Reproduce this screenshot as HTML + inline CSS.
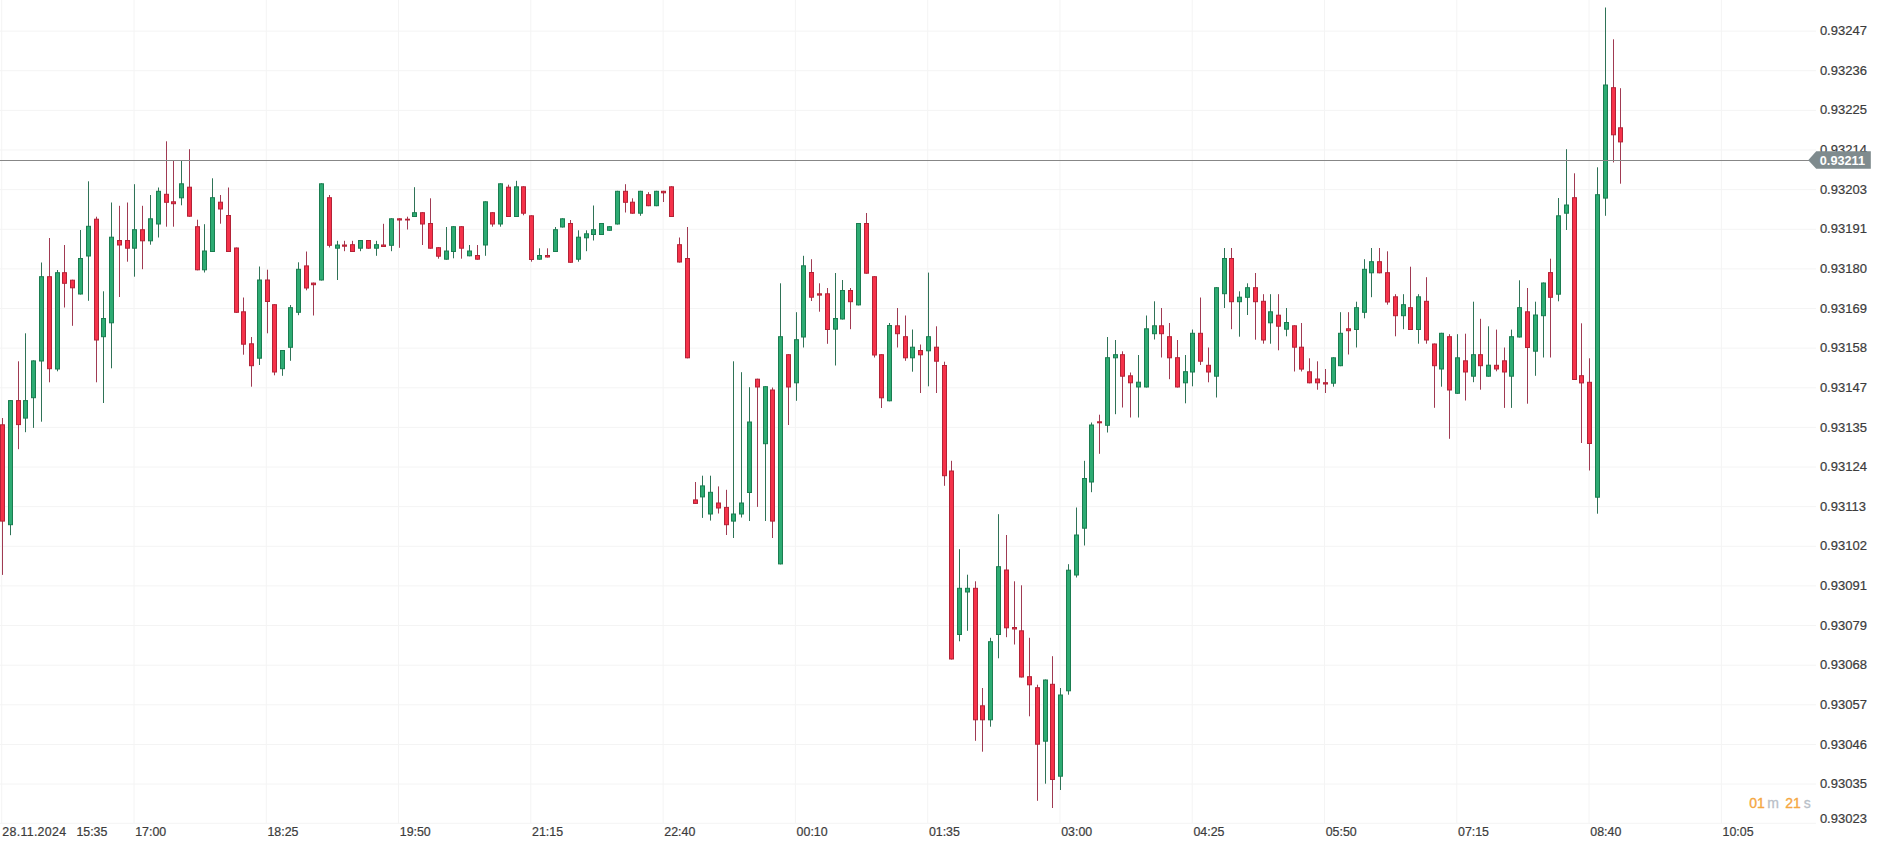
<!DOCTYPE html><html><head><meta charset="utf-8"><title>Chart</title>
<style>html,body{margin:0;padding:0;background:#fff;overflow:hidden}svg{display:block}text{font-family:"Liberation Sans",Arial,sans-serif}</style></head><body>
<svg width="1877" height="846" viewBox="0 0 1877 846">
<rect width="1877" height="846" fill="#fff"/>
<g stroke="#f4f4f4" stroke-width="1">
<line x1="0" y1="31.10" x2="1816" y2="31.10"/>
<line x1="0" y1="70.73" x2="1816" y2="70.73"/>
<line x1="0" y1="110.36" x2="1816" y2="110.36"/>
<line x1="0" y1="149.99" x2="1816" y2="149.99"/>
<line x1="0" y1="189.62" x2="1816" y2="189.62"/>
<line x1="0" y1="229.25" x2="1816" y2="229.25"/>
<line x1="0" y1="268.88" x2="1816" y2="268.88"/>
<line x1="0" y1="308.51" x2="1816" y2="308.51"/>
<line x1="0" y1="348.14" x2="1816" y2="348.14"/>
<line x1="0" y1="387.77" x2="1816" y2="387.77"/>
<line x1="0" y1="427.40" x2="1816" y2="427.40"/>
<line x1="0" y1="467.03" x2="1816" y2="467.03"/>
<line x1="0" y1="506.66" x2="1816" y2="506.66"/>
<line x1="0" y1="546.29" x2="1816" y2="546.29"/>
<line x1="0" y1="585.92" x2="1816" y2="585.92"/>
<line x1="0" y1="625.55" x2="1816" y2="625.55"/>
<line x1="0" y1="665.18" x2="1816" y2="665.18"/>
<line x1="0" y1="704.81" x2="1816" y2="704.81"/>
<line x1="0" y1="744.44" x2="1816" y2="744.44"/>
<line x1="0" y1="784.07" x2="1816" y2="784.07"/>
<line x1="0" y1="823.30" x2="1816" y2="823.30"/>
<line x1="1.72" y1="0" x2="1.72" y2="823.3"/>
<line x1="134.00" y1="0" x2="134.00" y2="823.3"/>
<line x1="266.28" y1="0" x2="266.28" y2="823.3"/>
<line x1="398.56" y1="0" x2="398.56" y2="823.3"/>
<line x1="530.84" y1="0" x2="530.84" y2="823.3"/>
<line x1="663.12" y1="0" x2="663.12" y2="823.3"/>
<line x1="795.40" y1="0" x2="795.40" y2="823.3"/>
<line x1="927.68" y1="0" x2="927.68" y2="823.3"/>
<line x1="1059.96" y1="0" x2="1059.96" y2="823.3"/>
<line x1="1192.24" y1="0" x2="1192.24" y2="823.3"/>
<line x1="1324.52" y1="0" x2="1324.52" y2="823.3"/>
<line x1="1456.80" y1="0" x2="1456.80" y2="823.3"/>
<line x1="1589.08" y1="0" x2="1589.08" y2="823.3"/>
<line x1="1721.36" y1="0" x2="1721.36" y2="823.3"/>
</g>
<g fill="#3c3c3c" stroke="#3c3c3c" stroke-width="0.22" font-size="13">
<text x="1819.9" y="35.20">0.93247</text>
<text x="1819.9" y="74.83">0.93236</text>
<text x="1819.9" y="114.46">0.93225</text>
<text x="1819.9" y="154.09">0.93214</text>
<text x="1819.9" y="193.72">0.93203</text>
<text x="1819.9" y="233.35">0.93191</text>
<text x="1819.9" y="272.98">0.93180</text>
<text x="1819.9" y="312.61">0.93169</text>
<text x="1819.9" y="352.24">0.93158</text>
<text x="1819.9" y="391.87">0.93147</text>
<text x="1819.9" y="431.50">0.93135</text>
<text x="1819.9" y="471.13">0.93124</text>
<text x="1819.9" y="510.76">0.93113</text>
<text x="1819.9" y="550.39">0.93102</text>
<text x="1819.9" y="590.02">0.93091</text>
<text x="1819.9" y="629.65">0.93079</text>
<text x="1819.9" y="669.28">0.93068</text>
<text x="1819.9" y="708.91">0.93057</text>
<text x="1819.9" y="748.54">0.93046</text>
<text x="1819.9" y="788.17">0.93035</text>
<text x="1819.9" y="823.40">0.93023</text>
</g>
<g fill="#3c3c3c" stroke="#3c3c3c" stroke-width="0.22" font-size="12.4">
<text x="2.3" y="835.8" textLength="63.8" lengthAdjust="spacing">28.11.2024</text><text x="76.4" y="835.8">15:35</text>
<text x="135.20" y="835.8">17:00</text>
<text x="267.48" y="835.8">18:25</text>
<text x="399.76" y="835.8">19:50</text>
<text x="532.04" y="835.8">21:15</text>
<text x="664.32" y="835.8">22:40</text>
<text x="796.60" y="835.8">00:10</text>
<text x="928.88" y="835.8">01:35</text>
<text x="1061.16" y="835.8">03:00</text>
<text x="1193.44" y="835.8">04:25</text>
<text x="1325.72" y="835.8">05:50</text>
<text x="1458.00" y="835.8">07:15</text>
<text x="1590.28" y="835.8">08:40</text>
<text x="1722.56" y="835.8">10:05</text>
</g>
<line x1="2.50" y1="418.0" x2="2.50" y2="574.9" stroke="#a03a52" stroke-width="1"/>
<rect x="0.50" y="424.8" width="4" height="96.3" fill="#f5324a" stroke="#b32236" stroke-width="1"/>
<line x1="10.50" y1="400.1" x2="10.50" y2="535.2" stroke="#2f7357" stroke-width="1"/>
<rect x="8.50" y="400.6" width="4" height="124.1" fill="#2dab73" stroke="#1a7d50" stroke-width="1"/>
<line x1="18.50" y1="361.3" x2="18.50" y2="449.2" stroke="#a03a52" stroke-width="1"/>
<rect x="16.50" y="400.6" width="4" height="24.0" fill="#f5324a" stroke="#b32236" stroke-width="1"/>
<line x1="25.50" y1="333.3" x2="25.50" y2="432.2" stroke="#2f7357" stroke-width="1"/>
<rect x="23.50" y="400.6" width="4" height="17.5" fill="#2dab73" stroke="#1a7d50" stroke-width="1"/>
<line x1="33.50" y1="360.4" x2="33.50" y2="427.9" stroke="#2f7357" stroke-width="1"/>
<rect x="31.50" y="360.9" width="4" height="36.8" fill="#2dab73" stroke="#1a7d50" stroke-width="1"/>
<line x1="41.50" y1="262.5" x2="41.50" y2="421.7" stroke="#2f7357" stroke-width="1"/>
<rect x="39.50" y="276.7" width="4" height="84.3" fill="#2dab73" stroke="#1a7d50" stroke-width="1"/>
<line x1="49.50" y1="238.0" x2="49.50" y2="382.3" stroke="#a03a52" stroke-width="1"/>
<rect x="47.50" y="276.7" width="4" height="92.0" fill="#f5324a" stroke="#b32236" stroke-width="1"/>
<line x1="57.50" y1="270.0" x2="57.50" y2="371.3" stroke="#2f7357" stroke-width="1"/>
<rect x="55.50" y="272.7" width="4" height="96.3" fill="#2dab73" stroke="#1a7d50" stroke-width="1"/>
<line x1="64.50" y1="245.0" x2="64.50" y2="307.5" stroke="#a03a52" stroke-width="1"/>
<rect x="62.50" y="272.7" width="4" height="10.6" fill="#f5324a" stroke="#b32236" stroke-width="1"/>
<line x1="72.50" y1="279.7" x2="72.50" y2="325.8" stroke="#a03a52" stroke-width="1"/>
<rect x="70.50" y="280.2" width="4" height="7.6" fill="#f5324a" stroke="#b32236" stroke-width="1"/>
<line x1="80.50" y1="230.0" x2="80.50" y2="294.5" stroke="#2f7357" stroke-width="1"/>
<rect x="78.50" y="258.5" width="4" height="35.5" fill="#2dab73" stroke="#1a7d50" stroke-width="1"/>
<line x1="88.50" y1="181.3" x2="88.50" y2="300.8" stroke="#2f7357" stroke-width="1"/>
<rect x="86.50" y="226.3" width="4" height="29.7" fill="#2dab73" stroke="#1a7d50" stroke-width="1"/>
<line x1="96.50" y1="216.7" x2="96.50" y2="382.3" stroke="#a03a52" stroke-width="1"/>
<rect x="94.50" y="219.2" width="4" height="120.8" fill="#f5324a" stroke="#b32236" stroke-width="1"/>
<line x1="103.50" y1="291.3" x2="103.50" y2="403.0" stroke="#2f7357" stroke-width="1"/>
<rect x="101.50" y="318.5" width="4" height="18.2" fill="#2dab73" stroke="#1a7d50" stroke-width="1"/>
<line x1="111.50" y1="202.5" x2="111.50" y2="368.3" stroke="#2f7357" stroke-width="1"/>
<rect x="109.50" y="237.2" width="4" height="85.6" fill="#2dab73" stroke="#1a7d50" stroke-width="1"/>
<line x1="119.50" y1="205.8" x2="119.50" y2="297.0" stroke="#a03a52" stroke-width="1"/>
<rect x="117.50" y="240.5" width="4" height="4.5" fill="#f5324a" stroke="#b32236" stroke-width="1"/>
<line x1="127.50" y1="202.5" x2="127.50" y2="261.7" stroke="#a03a52" stroke-width="1"/>
<rect x="125.50" y="240.5" width="4" height="7.7" fill="#f5324a" stroke="#b32236" stroke-width="1"/>
<line x1="134.50" y1="184.2" x2="134.50" y2="276.7" stroke="#2f7357" stroke-width="1"/>
<rect x="132.50" y="229.7" width="4" height="18.5" fill="#2dab73" stroke="#1a7d50" stroke-width="1"/>
<line x1="142.50" y1="205.8" x2="142.50" y2="269.2" stroke="#a03a52" stroke-width="1"/>
<rect x="140.50" y="229.7" width="4" height="11.1" fill="#f5324a" stroke="#b32236" stroke-width="1"/>
<line x1="150.50" y1="195.0" x2="150.50" y2="244.7" stroke="#2f7357" stroke-width="1"/>
<rect x="148.50" y="218.8" width="4" height="22.0" fill="#2dab73" stroke="#1a7d50" stroke-width="1"/>
<line x1="158.50" y1="187.5" x2="158.50" y2="237.5" stroke="#2f7357" stroke-width="1"/>
<rect x="156.50" y="191.3" width="4" height="32.7" fill="#2dab73" stroke="#1a7d50" stroke-width="1"/>
<line x1="166.50" y1="141.3" x2="166.50" y2="226.7" stroke="#a03a52" stroke-width="1"/>
<rect x="164.50" y="194.3" width="4" height="8.0" fill="#f5324a" stroke="#b32236" stroke-width="1"/>
<line x1="173.50" y1="160.5" x2="173.50" y2="226.7" stroke="#a03a52" stroke-width="1"/>
<rect x="171.50" y="201.8" width="4" height="1.9" fill="#f5324a" stroke="#b32236" stroke-width="1"/>
<line x1="181.50" y1="160.5" x2="181.50" y2="205.3" stroke="#2f7357" stroke-width="1"/>
<rect x="179.50" y="183.8" width="4" height="14.0" fill="#2dab73" stroke="#1a7d50" stroke-width="1"/>
<line x1="189.50" y1="149.2" x2="189.50" y2="216.7" stroke="#a03a52" stroke-width="1"/>
<rect x="187.50" y="187.2" width="4" height="29.0" fill="#f5324a" stroke="#b32236" stroke-width="1"/>
<line x1="197.50" y1="219.7" x2="197.50" y2="270.3" stroke="#a03a52" stroke-width="1"/>
<rect x="195.50" y="226.7" width="4" height="43.1" fill="#f5324a" stroke="#b32236" stroke-width="1"/>
<line x1="204.50" y1="224.2" x2="204.50" y2="272.5" stroke="#2f7357" stroke-width="1"/>
<rect x="202.50" y="251.0" width="4" height="18.8" fill="#2dab73" stroke="#1a7d50" stroke-width="1"/>
<line x1="212.50" y1="178.3" x2="212.50" y2="252.0" stroke="#2f7357" stroke-width="1"/>
<rect x="210.50" y="197.7" width="4" height="53.8" fill="#2dab73" stroke="#1a7d50" stroke-width="1"/>
<line x1="220.50" y1="195.0" x2="220.50" y2="223.7" stroke="#a03a52" stroke-width="1"/>
<rect x="218.50" y="202.2" width="4" height="6.8" fill="#f5324a" stroke="#b32236" stroke-width="1"/>
<line x1="228.50" y1="187.5" x2="228.50" y2="252.0" stroke="#a03a52" stroke-width="1"/>
<rect x="226.50" y="215.5" width="4" height="36.0" fill="#f5324a" stroke="#b32236" stroke-width="1"/>
<line x1="236.50" y1="247.5" x2="236.50" y2="312.8" stroke="#a03a52" stroke-width="1"/>
<rect x="234.50" y="248.0" width="4" height="64.3" fill="#f5324a" stroke="#b32236" stroke-width="1"/>
<line x1="243.50" y1="297.5" x2="243.50" y2="354.7" stroke="#a03a52" stroke-width="1"/>
<rect x="241.50" y="311.8" width="4" height="32.4" fill="#f5324a" stroke="#b32236" stroke-width="1"/>
<line x1="251.50" y1="337.0" x2="251.50" y2="386.7" stroke="#a03a52" stroke-width="1"/>
<rect x="249.50" y="343.8" width="4" height="21.9" fill="#f5324a" stroke="#b32236" stroke-width="1"/>
<line x1="259.50" y1="266.5" x2="259.50" y2="365.0" stroke="#2f7357" stroke-width="1"/>
<rect x="257.50" y="280.0" width="4" height="78.2" fill="#2dab73" stroke="#1a7d50" stroke-width="1"/>
<line x1="267.50" y1="269.7" x2="267.50" y2="333.3" stroke="#a03a52" stroke-width="1"/>
<rect x="265.50" y="280.0" width="4" height="21.5" fill="#f5324a" stroke="#b32236" stroke-width="1"/>
<line x1="274.50" y1="304.2" x2="274.50" y2="375.3" stroke="#a03a52" stroke-width="1"/>
<rect x="272.50" y="304.7" width="4" height="67.3" fill="#f5324a" stroke="#b32236" stroke-width="1"/>
<line x1="282.50" y1="350.0" x2="282.50" y2="375.8" stroke="#2f7357" stroke-width="1"/>
<rect x="280.50" y="350.5" width="4" height="18.2" fill="#2dab73" stroke="#1a7d50" stroke-width="1"/>
<line x1="290.50" y1="305.0" x2="290.50" y2="360.8" stroke="#2f7357" stroke-width="1"/>
<rect x="288.50" y="307.7" width="4" height="39.6" fill="#2dab73" stroke="#1a7d50" stroke-width="1"/>
<line x1="298.50" y1="262.3" x2="298.50" y2="315.2" stroke="#2f7357" stroke-width="1"/>
<rect x="296.50" y="269.3" width="4" height="43.0" fill="#2dab73" stroke="#1a7d50" stroke-width="1"/>
<line x1="306.50" y1="251.5" x2="306.50" y2="290.3" stroke="#a03a52" stroke-width="1"/>
<rect x="304.50" y="265.9" width="4" height="22.1" fill="#f5324a" stroke="#b32236" stroke-width="1"/>
<line x1="313.50" y1="282.6" x2="313.50" y2="315.5" stroke="#a03a52" stroke-width="1"/>
<rect x="311.50" y="283.1" width="4" height="1.6" fill="#f5324a" stroke="#b32236" stroke-width="1"/>
<line x1="321.50" y1="183.3" x2="321.50" y2="280.5" stroke="#2f7357" stroke-width="1"/>
<rect x="319.50" y="183.8" width="4" height="96.2" fill="#2dab73" stroke="#1a7d50" stroke-width="1"/>
<line x1="329.50" y1="195.0" x2="329.50" y2="247.5" stroke="#a03a52" stroke-width="1"/>
<rect x="327.50" y="197.7" width="4" height="47.6" fill="#f5324a" stroke="#b32236" stroke-width="1"/>
<line x1="337.50" y1="240.8" x2="337.50" y2="280.0" stroke="#2f7357" stroke-width="1"/>
<rect x="335.50" y="245.0" width="4" height="3.2" fill="#2dab73" stroke="#1a7d50" stroke-width="1"/>
<line x1="344.50" y1="240.8" x2="344.50" y2="251.2" stroke="#a03a52" stroke-width="1"/>
<rect x="342.50" y="245.0" width="4" height="1.2" fill="#f5324a" stroke="#b32236" stroke-width="1"/>
<line x1="352.50" y1="240.8" x2="352.50" y2="252.0" stroke="#a03a52" stroke-width="1"/>
<rect x="350.50" y="244.7" width="4" height="6.8" fill="#f5324a" stroke="#b32236" stroke-width="1"/>
<line x1="360.50" y1="240.0" x2="360.50" y2="251.2" stroke="#2f7357" stroke-width="1"/>
<rect x="358.50" y="240.5" width="4" height="7.7" fill="#2dab73" stroke="#1a7d50" stroke-width="1"/>
<line x1="368.50" y1="240.0" x2="368.50" y2="248.7" stroke="#a03a52" stroke-width="1"/>
<rect x="366.50" y="240.5" width="4" height="7.7" fill="#f5324a" stroke="#b32236" stroke-width="1"/>
<line x1="376.50" y1="240.8" x2="376.50" y2="255.8" stroke="#2f7357" stroke-width="1"/>
<rect x="374.50" y="244.7" width="4" height="3.5" fill="#2dab73" stroke="#1a7d50" stroke-width="1"/>
<line x1="383.50" y1="223.8" x2="383.50" y2="247.0" stroke="#a03a52" stroke-width="1"/>
<rect x="381.50" y="245.0" width="4" height="1.5" fill="#f5324a" stroke="#b32236" stroke-width="1"/>
<line x1="391.50" y1="218.3" x2="391.50" y2="251.2" stroke="#2f7357" stroke-width="1"/>
<rect x="389.50" y="218.8" width="4" height="26.5" fill="#2dab73" stroke="#1a7d50" stroke-width="1"/>
<line x1="399.50" y1="218.3" x2="399.50" y2="247.8" stroke="#a03a52" stroke-width="1"/>
<rect x="397.50" y="218.8" width="4" height="1.2" fill="#f5324a" stroke="#b32236" stroke-width="1"/>
<line x1="407.50" y1="216.7" x2="407.50" y2="229.5" stroke="#a03a52" stroke-width="1"/>
<rect x="405.50" y="219.2" width="4" height="0.8" fill="#f5324a" stroke="#b32236" stroke-width="1"/>
<line x1="414.50" y1="187.2" x2="414.50" y2="217.0" stroke="#2f7357" stroke-width="1"/>
<rect x="412.50" y="212.7" width="4" height="3.8" fill="#2dab73" stroke="#1a7d50" stroke-width="1"/>
<line x1="422.50" y1="212.2" x2="422.50" y2="245.0" stroke="#a03a52" stroke-width="1"/>
<rect x="420.50" y="212.7" width="4" height="11.3" fill="#f5324a" stroke="#b32236" stroke-width="1"/>
<line x1="430.50" y1="198.3" x2="430.50" y2="248.7" stroke="#a03a52" stroke-width="1"/>
<rect x="428.50" y="223.5" width="4" height="24.7" fill="#f5324a" stroke="#b32236" stroke-width="1"/>
<line x1="438.50" y1="247.2" x2="438.50" y2="258.7" stroke="#a03a52" stroke-width="1"/>
<rect x="436.50" y="247.7" width="4" height="8.5" fill="#f5324a" stroke="#b32236" stroke-width="1"/>
<line x1="446.50" y1="227.0" x2="446.50" y2="259.7" stroke="#2f7357" stroke-width="1"/>
<rect x="444.50" y="251.0" width="4" height="8.2" fill="#2dab73" stroke="#1a7d50" stroke-width="1"/>
<line x1="453.50" y1="226.2" x2="453.50" y2="258.3" stroke="#2f7357" stroke-width="1"/>
<rect x="451.50" y="226.7" width="4" height="24.8" fill="#2dab73" stroke="#1a7d50" stroke-width="1"/>
<line x1="461.50" y1="226.2" x2="461.50" y2="258.7" stroke="#a03a52" stroke-width="1"/>
<rect x="459.50" y="226.7" width="4" height="21.5" fill="#f5324a" stroke="#b32236" stroke-width="1"/>
<line x1="469.50" y1="245.0" x2="469.50" y2="256.3" stroke="#2f7357" stroke-width="1"/>
<rect x="467.50" y="251.0" width="4" height="4.8" fill="#2dab73" stroke="#1a7d50" stroke-width="1"/>
<line x1="477.50" y1="245.0" x2="477.50" y2="259.7" stroke="#a03a52" stroke-width="1"/>
<rect x="475.50" y="255.5" width="4" height="3.7" fill="#f5324a" stroke="#b32236" stroke-width="1"/>
<line x1="485.50" y1="201.3" x2="485.50" y2="255.8" stroke="#2f7357" stroke-width="1"/>
<rect x="483.50" y="201.8" width="4" height="43.2" fill="#2dab73" stroke="#1a7d50" stroke-width="1"/>
<line x1="492.50" y1="212.2" x2="492.50" y2="226.7" stroke="#a03a52" stroke-width="1"/>
<rect x="490.50" y="212.7" width="4" height="11.3" fill="#f5324a" stroke="#b32236" stroke-width="1"/>
<line x1="500.50" y1="183.3" x2="500.50" y2="226.7" stroke="#2f7357" stroke-width="1"/>
<rect x="498.50" y="183.8" width="4" height="40.2" fill="#2dab73" stroke="#1a7d50" stroke-width="1"/>
<line x1="508.50" y1="184.7" x2="508.50" y2="217.0" stroke="#a03a52" stroke-width="1"/>
<rect x="506.50" y="187.2" width="4" height="29.3" fill="#f5324a" stroke="#b32236" stroke-width="1"/>
<line x1="516.50" y1="180.8" x2="516.50" y2="217.0" stroke="#2f7357" stroke-width="1"/>
<rect x="514.50" y="186.8" width="4" height="29.7" fill="#2dab73" stroke="#1a7d50" stroke-width="1"/>
<line x1="523.50" y1="186.3" x2="523.50" y2="215.3" stroke="#a03a52" stroke-width="1"/>
<rect x="521.50" y="186.8" width="4" height="26.4" fill="#f5324a" stroke="#b32236" stroke-width="1"/>
<line x1="531.50" y1="215.3" x2="531.50" y2="261.7" stroke="#a03a52" stroke-width="1"/>
<rect x="529.50" y="215.8" width="4" height="43.7" fill="#f5324a" stroke="#b32236" stroke-width="1"/>
<line x1="539.50" y1="248.3" x2="539.50" y2="259.7" stroke="#2f7357" stroke-width="1"/>
<rect x="537.50" y="255.5" width="4" height="3.7" fill="#2dab73" stroke="#1a7d50" stroke-width="1"/>
<line x1="547.50" y1="248.3" x2="547.50" y2="257.5" stroke="#a03a52" stroke-width="1"/>
<rect x="545.50" y="255.5" width="4" height="1.5" fill="#f5324a" stroke="#b32236" stroke-width="1"/>
<line x1="555.50" y1="227.0" x2="555.50" y2="252.0" stroke="#2f7357" stroke-width="1"/>
<rect x="553.50" y="229.7" width="4" height="21.8" fill="#2dab73" stroke="#1a7d50" stroke-width="1"/>
<line x1="562.50" y1="218.3" x2="562.50" y2="227.5" stroke="#2f7357" stroke-width="1"/>
<rect x="560.50" y="218.8" width="4" height="8.2" fill="#2dab73" stroke="#1a7d50" stroke-width="1"/>
<line x1="570.50" y1="220.0" x2="570.50" y2="262.8" stroke="#a03a52" stroke-width="1"/>
<rect x="568.50" y="223.5" width="4" height="38.8" fill="#f5324a" stroke="#b32236" stroke-width="1"/>
<line x1="578.50" y1="230.3" x2="578.50" y2="261.7" stroke="#2f7357" stroke-width="1"/>
<rect x="576.50" y="237.2" width="4" height="22.0" fill="#2dab73" stroke="#1a7d50" stroke-width="1"/>
<line x1="586.50" y1="230.3" x2="586.50" y2="251.2" stroke="#2f7357" stroke-width="1"/>
<rect x="584.50" y="233.8" width="4" height="4.0" fill="#2dab73" stroke="#1a7d50" stroke-width="1"/>
<line x1="593.50" y1="205.5" x2="593.50" y2="240.5" stroke="#2f7357" stroke-width="1"/>
<rect x="591.50" y="229.7" width="4" height="4.8" fill="#2dab73" stroke="#1a7d50" stroke-width="1"/>
<line x1="601.50" y1="223.0" x2="601.50" y2="235.0" stroke="#2f7357" stroke-width="1"/>
<rect x="599.50" y="223.5" width="4" height="11.0" fill="#2dab73" stroke="#1a7d50" stroke-width="1"/>
<line x1="609.50" y1="226.2" x2="609.50" y2="230.8" stroke="#2f7357" stroke-width="1"/>
<rect x="607.50" y="226.7" width="4" height="3.6" fill="#2dab73" stroke="#1a7d50" stroke-width="1"/>
<line x1="617.50" y1="190.8" x2="617.50" y2="224.5" stroke="#2f7357" stroke-width="1"/>
<rect x="615.50" y="191.3" width="4" height="32.7" fill="#2dab73" stroke="#1a7d50" stroke-width="1"/>
<line x1="625.50" y1="184.2" x2="625.50" y2="212.5" stroke="#a03a52" stroke-width="1"/>
<rect x="623.50" y="191.3" width="4" height="11.0" fill="#f5324a" stroke="#b32236" stroke-width="1"/>
<line x1="632.50" y1="198.3" x2="632.50" y2="213.7" stroke="#a03a52" stroke-width="1"/>
<rect x="630.50" y="202.2" width="4" height="11.0" fill="#f5324a" stroke="#b32236" stroke-width="1"/>
<line x1="640.50" y1="190.8" x2="640.50" y2="215.8" stroke="#2f7357" stroke-width="1"/>
<rect x="638.50" y="191.3" width="4" height="21.9" fill="#2dab73" stroke="#1a7d50" stroke-width="1"/>
<line x1="648.50" y1="192.2" x2="648.50" y2="206.2" stroke="#a03a52" stroke-width="1"/>
<rect x="646.50" y="194.7" width="4" height="11.0" fill="#f5324a" stroke="#b32236" stroke-width="1"/>
<line x1="656.50" y1="190.8" x2="656.50" y2="206.2" stroke="#2f7357" stroke-width="1"/>
<rect x="654.50" y="191.3" width="4" height="14.4" fill="#2dab73" stroke="#1a7d50" stroke-width="1"/>
<line x1="663.50" y1="190.8" x2="663.50" y2="202.0" stroke="#a03a52" stroke-width="1"/>
<rect x="661.50" y="191.3" width="4" height="1.5" fill="#f5324a" stroke="#b32236" stroke-width="1"/>
<line x1="671.50" y1="186.3" x2="671.50" y2="217.0" stroke="#a03a52" stroke-width="1"/>
<rect x="669.50" y="186.8" width="4" height="29.7" fill="#f5324a" stroke="#b32236" stroke-width="1"/>
<line x1="679.50" y1="237.5" x2="679.50" y2="262.5" stroke="#a03a52" stroke-width="1"/>
<rect x="677.50" y="244.7" width="4" height="17.3" fill="#f5324a" stroke="#b32236" stroke-width="1"/>
<line x1="687.50" y1="227.0" x2="687.50" y2="358.3" stroke="#a03a52" stroke-width="1"/>
<rect x="685.50" y="258.5" width="4" height="99.3" fill="#f5324a" stroke="#b32236" stroke-width="1"/>
<line x1="695.50" y1="482.0" x2="695.50" y2="503.9" stroke="#a03a52" stroke-width="1"/>
<rect x="693.50" y="499.9" width="4" height="3.5" fill="#f5324a" stroke="#b32236" stroke-width="1"/>
<line x1="702.50" y1="475.7" x2="702.50" y2="517.9" stroke="#2f7357" stroke-width="1"/>
<rect x="700.50" y="485.9" width="4" height="11.0" fill="#2dab73" stroke="#1a7d50" stroke-width="1"/>
<line x1="710.50" y1="475.7" x2="710.50" y2="520.6" stroke="#2f7357" stroke-width="1"/>
<rect x="708.50" y="492.3" width="4" height="21.7" fill="#2dab73" stroke="#1a7d50" stroke-width="1"/>
<line x1="718.50" y1="486.4" x2="718.50" y2="513.5" stroke="#a03a52" stroke-width="1"/>
<rect x="716.50" y="503.0" width="4" height="5.0" fill="#f5324a" stroke="#b32236" stroke-width="1"/>
<line x1="726.50" y1="489.8" x2="726.50" y2="535.0" stroke="#a03a52" stroke-width="1"/>
<rect x="724.50" y="507.4" width="4" height="17.3" fill="#f5324a" stroke="#b32236" stroke-width="1"/>
<line x1="733.50" y1="361.3" x2="733.50" y2="538.0" stroke="#2f7357" stroke-width="1"/>
<rect x="731.50" y="514.0" width="4" height="7.1" fill="#2dab73" stroke="#1a7d50" stroke-width="1"/>
<line x1="741.50" y1="372.2" x2="741.50" y2="517.5" stroke="#2f7357" stroke-width="1"/>
<rect x="739.50" y="503.0" width="4" height="11.0" fill="#2dab73" stroke="#1a7d50" stroke-width="1"/>
<line x1="749.50" y1="387.2" x2="749.50" y2="521.0" stroke="#2f7357" stroke-width="1"/>
<rect x="747.50" y="422.0" width="4" height="70.5" fill="#2dab73" stroke="#1a7d50" stroke-width="1"/>
<line x1="757.50" y1="378.7" x2="757.50" y2="506.9" stroke="#a03a52" stroke-width="1"/>
<rect x="755.50" y="379.2" width="4" height="7.8" fill="#f5324a" stroke="#b32236" stroke-width="1"/>
<line x1="765.50" y1="386.2" x2="765.50" y2="521.0" stroke="#2f7357" stroke-width="1"/>
<rect x="763.50" y="386.7" width="4" height="57.0" fill="#2dab73" stroke="#1a7d50" stroke-width="1"/>
<line x1="772.50" y1="387.5" x2="772.50" y2="538.0" stroke="#a03a52" stroke-width="1"/>
<rect x="770.50" y="390.0" width="4" height="131.1" fill="#f5324a" stroke="#b32236" stroke-width="1"/>
<line x1="780.50" y1="283.3" x2="780.50" y2="564.4" stroke="#2f7357" stroke-width="1"/>
<rect x="778.50" y="336.7" width="4" height="227.2" fill="#2dab73" stroke="#1a7d50" stroke-width="1"/>
<line x1="788.50" y1="354.2" x2="788.50" y2="425.0" stroke="#a03a52" stroke-width="1"/>
<rect x="786.50" y="354.7" width="4" height="32.3" fill="#f5324a" stroke="#b32236" stroke-width="1"/>
<line x1="796.50" y1="312.2" x2="796.50" y2="400.8" stroke="#2f7357" stroke-width="1"/>
<rect x="794.50" y="339.7" width="4" height="43.1" fill="#2dab73" stroke="#1a7d50" stroke-width="1"/>
<line x1="803.50" y1="255.8" x2="803.50" y2="347.5" stroke="#2f7357" stroke-width="1"/>
<rect x="801.50" y="265.8" width="4" height="71.2" fill="#2dab73" stroke="#1a7d50" stroke-width="1"/>
<line x1="811.50" y1="259.2" x2="811.50" y2="301.0" stroke="#a03a52" stroke-width="1"/>
<rect x="809.50" y="272.5" width="4" height="24.7" fill="#f5324a" stroke="#b32236" stroke-width="1"/>
<line x1="819.50" y1="283.3" x2="819.50" y2="311.7" stroke="#a03a52" stroke-width="1"/>
<rect x="817.50" y="293.8" width="4" height="1.3" fill="#f5324a" stroke="#b32236" stroke-width="1"/>
<line x1="827.50" y1="288.0" x2="827.50" y2="343.8" stroke="#a03a52" stroke-width="1"/>
<rect x="825.50" y="293.8" width="4" height="35.7" fill="#f5324a" stroke="#b32236" stroke-width="1"/>
<line x1="835.50" y1="273.0" x2="835.50" y2="365.5" stroke="#2f7357" stroke-width="1"/>
<rect x="833.50" y="318.5" width="4" height="10.7" fill="#2dab73" stroke="#1a7d50" stroke-width="1"/>
<line x1="842.50" y1="280.0" x2="842.50" y2="319.5" stroke="#2f7357" stroke-width="1"/>
<rect x="840.50" y="290.5" width="4" height="28.5" fill="#2dab73" stroke="#1a7d50" stroke-width="1"/>
<line x1="850.50" y1="288.0" x2="850.50" y2="329.2" stroke="#a03a52" stroke-width="1"/>
<rect x="848.50" y="290.5" width="4" height="11.2" fill="#f5324a" stroke="#b32236" stroke-width="1"/>
<line x1="858.50" y1="223.0" x2="858.50" y2="305.4" stroke="#2f7357" stroke-width="1"/>
<rect x="856.50" y="223.5" width="4" height="81.4" fill="#2dab73" stroke="#1a7d50" stroke-width="1"/>
<line x1="866.50" y1="213.0" x2="866.50" y2="273.7" stroke="#a03a52" stroke-width="1"/>
<rect x="864.50" y="223.5" width="4" height="49.7" fill="#f5324a" stroke="#b32236" stroke-width="1"/>
<line x1="874.50" y1="276.2" x2="874.50" y2="357.5" stroke="#a03a52" stroke-width="1"/>
<rect x="872.50" y="276.7" width="4" height="78.3" fill="#f5324a" stroke="#b32236" stroke-width="1"/>
<line x1="881.50" y1="354.2" x2="881.50" y2="408.0" stroke="#a03a52" stroke-width="1"/>
<rect x="879.50" y="354.7" width="4" height="43.1" fill="#f5324a" stroke="#b32236" stroke-width="1"/>
<line x1="889.50" y1="323.0" x2="889.50" y2="401.3" stroke="#2f7357" stroke-width="1"/>
<rect x="887.50" y="325.5" width="4" height="75.3" fill="#2dab73" stroke="#1a7d50" stroke-width="1"/>
<line x1="897.50" y1="308.0" x2="897.50" y2="347.5" stroke="#a03a52" stroke-width="1"/>
<rect x="895.50" y="325.8" width="4" height="7.9" fill="#f5324a" stroke="#b32236" stroke-width="1"/>
<line x1="905.50" y1="315.5" x2="905.50" y2="360.8" stroke="#a03a52" stroke-width="1"/>
<rect x="903.50" y="336.7" width="4" height="21.1" fill="#f5324a" stroke="#b32236" stroke-width="1"/>
<line x1="912.50" y1="329.5" x2="912.50" y2="371.7" stroke="#2f7357" stroke-width="1"/>
<rect x="910.50" y="347.2" width="4" height="10.6" fill="#2dab73" stroke="#1a7d50" stroke-width="1"/>
<line x1="920.50" y1="344.5" x2="920.50" y2="393.0" stroke="#a03a52" stroke-width="1"/>
<rect x="918.50" y="350.5" width="4" height="4.3" fill="#f5324a" stroke="#b32236" stroke-width="1"/>
<line x1="928.50" y1="272.6" x2="928.50" y2="386.3" stroke="#2f7357" stroke-width="1"/>
<rect x="926.50" y="336.7" width="4" height="14.1" fill="#2dab73" stroke="#1a7d50" stroke-width="1"/>
<line x1="936.50" y1="326.3" x2="936.50" y2="393.0" stroke="#a03a52" stroke-width="1"/>
<rect x="934.50" y="347.2" width="4" height="14.0" fill="#f5324a" stroke="#b32236" stroke-width="1"/>
<line x1="944.50" y1="361.7" x2="944.50" y2="485.8" stroke="#a03a52" stroke-width="1"/>
<rect x="942.50" y="365.5" width="4" height="110.2" fill="#f5324a" stroke="#b32236" stroke-width="1"/>
<line x1="951.50" y1="460.8" x2="951.50" y2="659.5" stroke="#a03a52" stroke-width="1"/>
<rect x="949.50" y="471.0" width="4" height="188.0" fill="#f5324a" stroke="#b32236" stroke-width="1"/>
<line x1="959.50" y1="549.2" x2="959.50" y2="641.3" stroke="#2f7357" stroke-width="1"/>
<rect x="957.50" y="588.3" width="4" height="46.2" fill="#2dab73" stroke="#1a7d50" stroke-width="1"/>
<line x1="967.50" y1="574.7" x2="967.50" y2="630.8" stroke="#2f7357" stroke-width="1"/>
<rect x="965.50" y="588.3" width="4" height="3.7" fill="#2dab73" stroke="#1a7d50" stroke-width="1"/>
<line x1="975.50" y1="581.3" x2="975.50" y2="740.8" stroke="#a03a52" stroke-width="1"/>
<rect x="973.50" y="588.3" width="4" height="131.5" fill="#f5324a" stroke="#b32236" stroke-width="1"/>
<line x1="982.50" y1="688.0" x2="982.50" y2="751.7" stroke="#a03a52" stroke-width="1"/>
<rect x="980.50" y="705.8" width="4" height="14.0" fill="#f5324a" stroke="#b32236" stroke-width="1"/>
<line x1="990.50" y1="637.8" x2="990.50" y2="726.7" stroke="#2f7357" stroke-width="1"/>
<rect x="988.50" y="641.7" width="4" height="78.1" fill="#2dab73" stroke="#1a7d50" stroke-width="1"/>
<line x1="998.50" y1="514.2" x2="998.50" y2="658.3" stroke="#2f7357" stroke-width="1"/>
<rect x="996.50" y="566.7" width="4" height="67.8" fill="#2dab73" stroke="#1a7d50" stroke-width="1"/>
<line x1="1006.50" y1="535.0" x2="1006.50" y2="637.2" stroke="#a03a52" stroke-width="1"/>
<rect x="1004.50" y="570.0" width="4" height="57.8" fill="#f5324a" stroke="#b32236" stroke-width="1"/>
<line x1="1014.50" y1="581.3" x2="1014.50" y2="644.5" stroke="#a03a52" stroke-width="1"/>
<rect x="1012.50" y="627.5" width="4" height="1.5" fill="#f5324a" stroke="#b32236" stroke-width="1"/>
<line x1="1021.50" y1="585.3" x2="1021.50" y2="677.5" stroke="#a03a52" stroke-width="1"/>
<rect x="1019.50" y="630.8" width="4" height="46.2" fill="#f5324a" stroke="#b32236" stroke-width="1"/>
<line x1="1029.50" y1="637.8" x2="1029.50" y2="716.3" stroke="#a03a52" stroke-width="1"/>
<rect x="1027.50" y="676.7" width="4" height="8.1" fill="#f5324a" stroke="#b32236" stroke-width="1"/>
<line x1="1037.50" y1="684.7" x2="1037.50" y2="800.8" stroke="#a03a52" stroke-width="1"/>
<rect x="1035.50" y="687.7" width="4" height="56.5" fill="#f5324a" stroke="#b32236" stroke-width="1"/>
<line x1="1045.50" y1="679.5" x2="1045.50" y2="783.7" stroke="#2f7357" stroke-width="1"/>
<rect x="1043.50" y="680.0" width="4" height="61.2" fill="#2dab73" stroke="#1a7d50" stroke-width="1"/>
<line x1="1052.50" y1="656.2" x2="1052.50" y2="808.0" stroke="#a03a52" stroke-width="1"/>
<rect x="1050.50" y="684.3" width="4" height="95.2" fill="#f5324a" stroke="#b32236" stroke-width="1"/>
<line x1="1060.50" y1="688.0" x2="1060.50" y2="790.0" stroke="#2f7357" stroke-width="1"/>
<rect x="1058.50" y="695.0" width="4" height="81.2" fill="#2dab73" stroke="#1a7d50" stroke-width="1"/>
<line x1="1068.50" y1="564.2" x2="1068.50" y2="694.7" stroke="#2f7357" stroke-width="1"/>
<rect x="1066.50" y="570.2" width="4" height="120.6" fill="#2dab73" stroke="#1a7d50" stroke-width="1"/>
<line x1="1076.50" y1="507.5" x2="1076.50" y2="577.5" stroke="#2f7357" stroke-width="1"/>
<rect x="1074.50" y="535.0" width="4" height="40.0" fill="#2dab73" stroke="#1a7d50" stroke-width="1"/>
<line x1="1084.50" y1="460.8" x2="1084.50" y2="545.5" stroke="#2f7357" stroke-width="1"/>
<rect x="1082.50" y="478.5" width="4" height="49.7" fill="#2dab73" stroke="#1a7d50" stroke-width="1"/>
<line x1="1091.50" y1="422.5" x2="1091.50" y2="492.2" stroke="#2f7357" stroke-width="1"/>
<rect x="1089.50" y="425.0" width="4" height="57.0" fill="#2dab73" stroke="#1a7d50" stroke-width="1"/>
<line x1="1099.50" y1="414.7" x2="1099.50" y2="453.8" stroke="#a03a52" stroke-width="1"/>
<rect x="1097.50" y="421.8" width="4" height="1.0" fill="#f5324a" stroke="#b32236" stroke-width="1"/>
<line x1="1107.50" y1="337.0" x2="1107.50" y2="432.5" stroke="#2f7357" stroke-width="1"/>
<rect x="1105.50" y="357.7" width="4" height="67.6" fill="#2dab73" stroke="#1a7d50" stroke-width="1"/>
<line x1="1115.50" y1="340.0" x2="1115.50" y2="414.2" stroke="#2f7357" stroke-width="1"/>
<rect x="1113.50" y="354.7" width="4" height="3.1" fill="#2dab73" stroke="#1a7d50" stroke-width="1"/>
<line x1="1122.50" y1="351.3" x2="1122.50" y2="407.5" stroke="#a03a52" stroke-width="1"/>
<rect x="1120.50" y="354.7" width="4" height="21.5" fill="#f5324a" stroke="#b32236" stroke-width="1"/>
<line x1="1130.50" y1="372.5" x2="1130.50" y2="417.5" stroke="#a03a52" stroke-width="1"/>
<rect x="1128.50" y="375.8" width="4" height="7.0" fill="#f5324a" stroke="#b32236" stroke-width="1"/>
<line x1="1138.50" y1="355.0" x2="1138.50" y2="417.5" stroke="#2f7357" stroke-width="1"/>
<rect x="1136.50" y="382.2" width="4" height="4.8" fill="#2dab73" stroke="#1a7d50" stroke-width="1"/>
<line x1="1146.50" y1="315.5" x2="1146.50" y2="387.5" stroke="#2f7357" stroke-width="1"/>
<rect x="1144.50" y="328.8" width="4" height="58.2" fill="#2dab73" stroke="#1a7d50" stroke-width="1"/>
<line x1="1154.50" y1="301.3" x2="1154.50" y2="339.5" stroke="#2f7357" stroke-width="1"/>
<rect x="1152.50" y="325.8" width="4" height="7.9" fill="#2dab73" stroke="#1a7d50" stroke-width="1"/>
<line x1="1161.50" y1="308.0" x2="1161.50" y2="357.5" stroke="#a03a52" stroke-width="1"/>
<rect x="1159.50" y="325.8" width="4" height="7.9" fill="#f5324a" stroke="#b32236" stroke-width="1"/>
<line x1="1169.50" y1="323.0" x2="1169.50" y2="379.2" stroke="#a03a52" stroke-width="1"/>
<rect x="1167.50" y="336.7" width="4" height="21.1" fill="#f5324a" stroke="#b32236" stroke-width="1"/>
<line x1="1177.50" y1="340.0" x2="1177.50" y2="387.5" stroke="#a03a52" stroke-width="1"/>
<rect x="1175.50" y="357.7" width="4" height="29.3" fill="#f5324a" stroke="#b32236" stroke-width="1"/>
<line x1="1185.50" y1="355.0" x2="1185.50" y2="403.3" stroke="#2f7357" stroke-width="1"/>
<rect x="1183.50" y="371.7" width="4" height="11.1" fill="#2dab73" stroke="#1a7d50" stroke-width="1"/>
<line x1="1192.50" y1="329.5" x2="1192.50" y2="386.3" stroke="#2f7357" stroke-width="1"/>
<rect x="1190.50" y="333.3" width="4" height="38.7" fill="#2dab73" stroke="#1a7d50" stroke-width="1"/>
<line x1="1200.50" y1="297.5" x2="1200.50" y2="365.0" stroke="#a03a52" stroke-width="1"/>
<rect x="1198.50" y="333.3" width="4" height="27.9" fill="#f5324a" stroke="#b32236" stroke-width="1"/>
<line x1="1208.50" y1="347.5" x2="1208.50" y2="382.3" stroke="#a03a52" stroke-width="1"/>
<rect x="1206.50" y="365.3" width="4" height="6.7" fill="#f5324a" stroke="#b32236" stroke-width="1"/>
<line x1="1216.50" y1="287.2" x2="1216.50" y2="397.5" stroke="#2f7357" stroke-width="1"/>
<rect x="1214.50" y="287.7" width="4" height="88.5" fill="#2dab73" stroke="#1a7d50" stroke-width="1"/>
<line x1="1224.50" y1="248.0" x2="1224.50" y2="308.0" stroke="#2f7357" stroke-width="1"/>
<rect x="1222.50" y="258.5" width="4" height="35.2" fill="#2dab73" stroke="#1a7d50" stroke-width="1"/>
<line x1="1231.50" y1="248.0" x2="1231.50" y2="329.2" stroke="#a03a52" stroke-width="1"/>
<rect x="1229.50" y="258.5" width="4" height="43.2" fill="#f5324a" stroke="#b32236" stroke-width="1"/>
<line x1="1239.50" y1="291.3" x2="1239.50" y2="336.7" stroke="#2f7357" stroke-width="1"/>
<rect x="1237.50" y="297.2" width="4" height="4.5" fill="#2dab73" stroke="#1a7d50" stroke-width="1"/>
<line x1="1247.50" y1="283.3" x2="1247.50" y2="315.0" stroke="#2f7357" stroke-width="1"/>
<rect x="1245.50" y="287.7" width="4" height="9.6" fill="#2dab73" stroke="#1a7d50" stroke-width="1"/>
<line x1="1255.50" y1="273.0" x2="1255.50" y2="339.7" stroke="#a03a52" stroke-width="1"/>
<rect x="1253.50" y="287.7" width="4" height="14.0" fill="#f5324a" stroke="#b32236" stroke-width="1"/>
<line x1="1263.50" y1="294.2" x2="1263.50" y2="343.7" stroke="#a03a52" stroke-width="1"/>
<rect x="1261.50" y="301.3" width="4" height="38.7" fill="#f5324a" stroke="#b32236" stroke-width="1"/>
<line x1="1270.50" y1="294.2" x2="1270.50" y2="343.7" stroke="#2f7357" stroke-width="1"/>
<rect x="1268.50" y="311.8" width="4" height="11.0" fill="#2dab73" stroke="#1a7d50" stroke-width="1"/>
<line x1="1278.50" y1="294.2" x2="1278.50" y2="350.3" stroke="#a03a52" stroke-width="1"/>
<rect x="1276.50" y="315.2" width="4" height="11.0" fill="#f5324a" stroke="#b32236" stroke-width="1"/>
<line x1="1286.50" y1="308.0" x2="1286.50" y2="336.3" stroke="#2f7357" stroke-width="1"/>
<rect x="1284.50" y="322.5" width="4" height="6.7" fill="#2dab73" stroke="#1a7d50" stroke-width="1"/>
<line x1="1294.50" y1="325.3" x2="1294.50" y2="371.5" stroke="#a03a52" stroke-width="1"/>
<rect x="1292.50" y="325.8" width="4" height="21.4" fill="#f5324a" stroke="#b32236" stroke-width="1"/>
<line x1="1301.50" y1="323.0" x2="1301.50" y2="371.5" stroke="#a03a52" stroke-width="1"/>
<rect x="1299.50" y="347.2" width="4" height="21.9" fill="#f5324a" stroke="#b32236" stroke-width="1"/>
<line x1="1309.50" y1="358.3" x2="1309.50" y2="383.3" stroke="#a03a52" stroke-width="1"/>
<rect x="1307.50" y="371.8" width="4" height="11.0" fill="#f5324a" stroke="#b32236" stroke-width="1"/>
<line x1="1317.50" y1="361.3" x2="1317.50" y2="389.7" stroke="#a03a52" stroke-width="1"/>
<rect x="1315.50" y="379.0" width="4" height="3.8" fill="#f5324a" stroke="#b32236" stroke-width="1"/>
<line x1="1325.50" y1="369.0" x2="1325.50" y2="393.0" stroke="#a03a52" stroke-width="1"/>
<rect x="1323.50" y="382.7" width="4" height="1.3" fill="#f5324a" stroke="#b32236" stroke-width="1"/>
<line x1="1333.50" y1="357.3" x2="1333.50" y2="386.7" stroke="#2f7357" stroke-width="1"/>
<rect x="1331.50" y="357.8" width="4" height="25.4" fill="#2dab73" stroke="#1a7d50" stroke-width="1"/>
<line x1="1340.50" y1="312.2" x2="1340.50" y2="366.2" stroke="#2f7357" stroke-width="1"/>
<rect x="1338.50" y="333.3" width="4" height="32.4" fill="#2dab73" stroke="#1a7d50" stroke-width="1"/>
<line x1="1348.50" y1="312.2" x2="1348.50" y2="354.5" stroke="#a03a52" stroke-width="1"/>
<rect x="1346.50" y="328.8" width="4" height="1.9" fill="#f5324a" stroke="#b32236" stroke-width="1"/>
<line x1="1356.50" y1="301.7" x2="1356.50" y2="347.5" stroke="#2f7357" stroke-width="1"/>
<rect x="1354.50" y="307.7" width="4" height="21.8" fill="#2dab73" stroke="#1a7d50" stroke-width="1"/>
<line x1="1364.50" y1="259.2" x2="1364.50" y2="318.3" stroke="#2f7357" stroke-width="1"/>
<rect x="1362.50" y="269.3" width="4" height="43.0" fill="#2dab73" stroke="#1a7d50" stroke-width="1"/>
<line x1="1371.50" y1="248.0" x2="1371.50" y2="297.2" stroke="#2f7357" stroke-width="1"/>
<rect x="1369.50" y="261.7" width="4" height="11.1" fill="#2dab73" stroke="#1a7d50" stroke-width="1"/>
<line x1="1379.50" y1="248.0" x2="1379.50" y2="273.3" stroke="#a03a52" stroke-width="1"/>
<rect x="1377.50" y="261.7" width="4" height="11.1" fill="#f5324a" stroke="#b32236" stroke-width="1"/>
<line x1="1387.50" y1="251.3" x2="1387.50" y2="304.7" stroke="#a03a52" stroke-width="1"/>
<rect x="1385.50" y="272.7" width="4" height="29.3" fill="#f5324a" stroke="#b32236" stroke-width="1"/>
<line x1="1395.50" y1="294.2" x2="1395.50" y2="336.3" stroke="#a03a52" stroke-width="1"/>
<rect x="1393.50" y="296.8" width="4" height="18.9" fill="#f5324a" stroke="#b32236" stroke-width="1"/>
<line x1="1403.50" y1="294.2" x2="1403.50" y2="329.2" stroke="#2f7357" stroke-width="1"/>
<rect x="1401.50" y="304.7" width="4" height="11.0" fill="#2dab73" stroke="#1a7d50" stroke-width="1"/>
<line x1="1410.50" y1="266.7" x2="1410.50" y2="330.0" stroke="#a03a52" stroke-width="1"/>
<rect x="1408.50" y="307.7" width="4" height="21.8" fill="#f5324a" stroke="#b32236" stroke-width="1"/>
<line x1="1418.50" y1="294.2" x2="1418.50" y2="343.7" stroke="#2f7357" stroke-width="1"/>
<rect x="1416.50" y="296.8" width="4" height="32.7" fill="#2dab73" stroke="#1a7d50" stroke-width="1"/>
<line x1="1426.50" y1="277.2" x2="1426.50" y2="343.7" stroke="#a03a52" stroke-width="1"/>
<rect x="1424.50" y="301.3" width="4" height="38.7" fill="#f5324a" stroke="#b32236" stroke-width="1"/>
<line x1="1434.50" y1="343.5" x2="1434.50" y2="407.8" stroke="#a03a52" stroke-width="1"/>
<rect x="1432.50" y="344.0" width="4" height="21.7" fill="#f5324a" stroke="#b32236" stroke-width="1"/>
<line x1="1441.50" y1="332.8" x2="1441.50" y2="386.7" stroke="#2f7357" stroke-width="1"/>
<rect x="1439.50" y="333.3" width="4" height="35.7" fill="#2dab73" stroke="#1a7d50" stroke-width="1"/>
<line x1="1449.50" y1="334.2" x2="1449.50" y2="438.8" stroke="#a03a52" stroke-width="1"/>
<rect x="1447.50" y="336.7" width="4" height="53.3" fill="#f5324a" stroke="#b32236" stroke-width="1"/>
<line x1="1457.50" y1="334.2" x2="1457.50" y2="393.8" stroke="#2f7357" stroke-width="1"/>
<rect x="1455.50" y="357.8" width="4" height="35.5" fill="#2dab73" stroke="#1a7d50" stroke-width="1"/>
<line x1="1465.50" y1="333.7" x2="1465.50" y2="400.5" stroke="#a03a52" stroke-width="1"/>
<rect x="1463.50" y="360.8" width="4" height="11.2" fill="#f5324a" stroke="#b32236" stroke-width="1"/>
<line x1="1473.50" y1="301.7" x2="1473.50" y2="382.2" stroke="#2f7357" stroke-width="1"/>
<rect x="1471.50" y="354.7" width="4" height="21.5" fill="#2dab73" stroke="#1a7d50" stroke-width="1"/>
<line x1="1480.50" y1="318.8" x2="1480.50" y2="389.7" stroke="#a03a52" stroke-width="1"/>
<rect x="1478.50" y="354.7" width="4" height="11.0" fill="#f5324a" stroke="#b32236" stroke-width="1"/>
<line x1="1488.50" y1="326.3" x2="1488.50" y2="376.7" stroke="#2f7357" stroke-width="1"/>
<rect x="1486.50" y="365.2" width="4" height="11.0" fill="#2dab73" stroke="#1a7d50" stroke-width="1"/>
<line x1="1496.50" y1="329.6" x2="1496.50" y2="371.3" stroke="#a03a52" stroke-width="1"/>
<rect x="1494.50" y="365.3" width="4" height="3.7" fill="#f5324a" stroke="#b32236" stroke-width="1"/>
<line x1="1504.50" y1="347.5" x2="1504.50" y2="407.9" stroke="#a03a52" stroke-width="1"/>
<rect x="1502.50" y="360.8" width="4" height="11.2" fill="#f5324a" stroke="#b32236" stroke-width="1"/>
<line x1="1511.50" y1="329.6" x2="1511.50" y2="407.9" stroke="#2f7357" stroke-width="1"/>
<rect x="1509.50" y="336.7" width="4" height="39.5" fill="#2dab73" stroke="#1a7d50" stroke-width="1"/>
<line x1="1519.50" y1="280.3" x2="1519.50" y2="337.5" stroke="#2f7357" stroke-width="1"/>
<rect x="1517.50" y="307.7" width="4" height="29.3" fill="#2dab73" stroke="#1a7d50" stroke-width="1"/>
<line x1="1527.50" y1="288.0" x2="1527.50" y2="403.7" stroke="#a03a52" stroke-width="1"/>
<rect x="1525.50" y="311.8" width="4" height="35.7" fill="#f5324a" stroke="#b32236" stroke-width="1"/>
<line x1="1535.50" y1="301.7" x2="1535.50" y2="375.8" stroke="#2f7357" stroke-width="1"/>
<rect x="1533.50" y="315.0" width="4" height="36.2" fill="#2dab73" stroke="#1a7d50" stroke-width="1"/>
<line x1="1543.50" y1="282.5" x2="1543.50" y2="357.5" stroke="#2f7357" stroke-width="1"/>
<rect x="1541.50" y="283.0" width="4" height="32.7" fill="#2dab73" stroke="#1a7d50" stroke-width="1"/>
<line x1="1550.50" y1="258.7" x2="1550.50" y2="357.5" stroke="#a03a52" stroke-width="1"/>
<rect x="1548.50" y="272.6" width="4" height="24.7" fill="#f5324a" stroke="#b32236" stroke-width="1"/>
<line x1="1558.50" y1="198.0" x2="1558.50" y2="301.3" stroke="#2f7357" stroke-width="1"/>
<rect x="1556.50" y="215.8" width="4" height="78.4" fill="#2dab73" stroke="#1a7d50" stroke-width="1"/>
<line x1="1566.50" y1="149.2" x2="1566.50" y2="230.0" stroke="#2f7357" stroke-width="1"/>
<rect x="1564.50" y="205.0" width="4" height="8.2" fill="#2dab73" stroke="#1a7d50" stroke-width="1"/>
<line x1="1574.50" y1="173.3" x2="1574.50" y2="380.0" stroke="#a03a52" stroke-width="1"/>
<rect x="1572.50" y="197.7" width="4" height="181.8" fill="#f5324a" stroke="#b32236" stroke-width="1"/>
<line x1="1581.50" y1="323.3" x2="1581.50" y2="443.0" stroke="#a03a52" stroke-width="1"/>
<rect x="1579.50" y="375.7" width="4" height="7.2" fill="#f5324a" stroke="#b32236" stroke-width="1"/>
<line x1="1589.50" y1="358.3" x2="1589.50" y2="470.5" stroke="#a03a52" stroke-width="1"/>
<rect x="1587.50" y="382.3" width="4" height="61.2" fill="#f5324a" stroke="#b32236" stroke-width="1"/>
<line x1="1597.50" y1="167.3" x2="1597.50" y2="513.7" stroke="#2f7357" stroke-width="1"/>
<rect x="1595.50" y="194.7" width="4" height="302.5" fill="#2dab73" stroke="#1a7d50" stroke-width="1"/>
<line x1="1605.50" y1="7.5" x2="1605.50" y2="215.8" stroke="#2f7357" stroke-width="1"/>
<rect x="1603.50" y="85.0" width="4" height="113.1" fill="#2dab73" stroke="#1a7d50" stroke-width="1"/>
<line x1="1613.50" y1="39.3" x2="1613.50" y2="162.4" stroke="#a03a52" stroke-width="1"/>
<rect x="1611.50" y="87.7" width="4" height="47.1" fill="#f5324a" stroke="#b32236" stroke-width="1"/>
<line x1="1620.50" y1="88.2" x2="1620.50" y2="183.7" stroke="#a03a52" stroke-width="1"/>
<rect x="1618.50" y="127.8" width="4" height="14.1" fill="#f5324a" stroke="#b32236" stroke-width="1"/>
<line x1="0" y1="160.5" x2="1812" y2="160.5" stroke="#878787" stroke-width="1"/>
<path d="M1808.2 160.2 L1816.2 151.2 H1870.8 V168.8 H1816.2 Z" fill="#7f8b8e"/>
<text x="1819.8" y="164.5" font-size="12.7" font-weight="bold" fill="#fff">0.93211</text>
<g font-size="14">
<text x="1749.3" y="808" fill="#f5a742" stroke="#f5a742" stroke-width="0.35">01</text>
<text x="1767.2" y="808" fill="#b9c0c8" stroke="#b9c0c8" stroke-width="0.3">m</text>
<text x="1785.2" y="808" fill="#f5a742" stroke="#f5a742" stroke-width="0.35">21</text>
<text x="1803.8" y="808" fill="#b9c0c8" stroke="#b9c0c8" stroke-width="0.3">s</text>
</g>
</svg></body></html>
